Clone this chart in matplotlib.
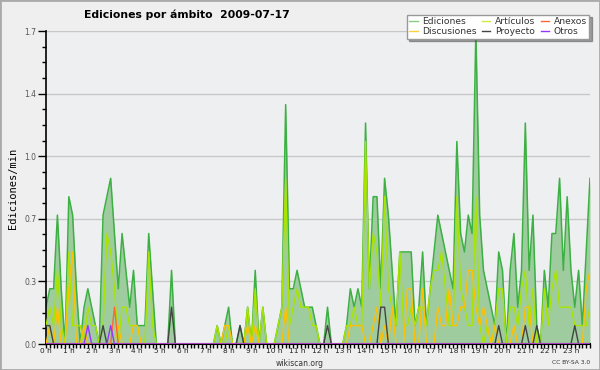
import matplotlib
matplotlib.use('Agg')
import matplotlib.pyplot as plt
import numpy as np
from matplotlib.lines import Line2D
from matplotlib.patches import Rectangle
from matplotlib.ticker import FormatStrFormatter

# edits per minute, one value every 10 minutes (144 per day)
ediciones = [0.2, 0.3, 0.3, 0.7, 0.3, 0.0, 0.8, 0.7, 0.3, 0.0, 0.2, 0.3,
             0.2, 0.1, 0.0, 0.7, 0.8, 0.9, 0.6, 0.3, 0.6, 0.4, 0.2, 0.4,
             0.1, 0.1, 0.1, 0.6, 0.3, 0.0, 0.0, 0.0, 0.0, 0.4, 0.0, 0.0,
             0.0, 0.0, 0.0, 0.0, 0.0, 0.0, 0.0, 0.0, 0.0, 0.1, 0.0, 0.1,
             0.2, 0.0, 0.0, 0.1, 0.0, 0.2, 0.0, 0.4, 0.0, 0.2, 0.0, 0.0,
             0.0, 0.1, 0.2, 1.3, 0.3, 0.3, 0.4, 0.3, 0.2, 0.2, 0.2, 0.1,
             0.0, 0.0, 0.2, 0.0, 0.0, 0.0, 0.0, 0.1, 0.3, 0.2, 0.3, 0.2,
             1.2, 0.3, 0.8, 0.8, 0.3, 0.9, 0.7, 0.4, 0.1, 0.5, 0.5, 0.5,
             0.5, 0.1, 0.2, 0.5, 0.1, 0.3, 0.5, 0.7, 0.6, 0.5, 0.4, 0.3,
             1.1, 0.6, 0.5, 0.7, 0.6, 1.7, 0.7, 0.4, 0.3, 0.2, 0.1, 0.5,
             0.4, 0.0, 0.4, 0.6, 0.2, 0.4, 1.2, 0.4, 0.7, 0.1, 0.0, 0.4,
             0.2, 0.6, 0.6, 0.9, 0.4, 0.8, 0.4, 0.2, 0.4, 0.1, 0.5, 0.9]

articulos = [0.1, 0.2, 0.1, 0.4, 0.1, 0.0, 0.5, 0.1, 0.1, 0.1, 0.0, 0.2,
             0.1, 0.1, 0.0, 0.1, 0.6, 0.5, 0.3, 0.0, 0.2, 0.2, 0.1, 0.1,
             0.1, 0.0, 0.0, 0.5, 0.1, 0.0, 0.0, 0.0, 0.0, 0.0, 0.0, 0.0,
             0.0, 0.0, 0.0, 0.0, 0.0, 0.0, 0.0, 0.0, 0.0, 0.1, 0.0, 0.0,
             0.1, 0.0, 0.0, 0.0, 0.0, 0.2, 0.0, 0.3, 0.0, 0.2, 0.0, 0.0,
             0.0, 0.1, 0.2, 0.9, 0.1, 0.2, 0.3, 0.2, 0.2, 0.2, 0.1, 0.1,
             0.0, 0.0, 0.0, 0.0, 0.0, 0.0, 0.0, 0.1, 0.1, 0.2, 0.1, 0.1,
             1.1, 0.3, 0.6, 0.5, 0.2, 0.8, 0.3, 0.2, 0.1, 0.5, 0.1, 0.1,
             0.2, 0.1, 0.2, 0.2, 0.1, 0.3, 0.4, 0.4, 0.5, 0.3, 0.1, 0.1,
             0.8, 0.3, 0.2, 0.1, 0.1, 0.8, 0.1, 0.0, 0.1, 0.0, 0.1, 0.3,
             0.3, 0.0, 0.2, 0.2, 0.1, 0.3, 0.4, 0.1, 0.3, 0.0, 0.0, 0.3,
             0.1, 0.3, 0.4, 0.2, 0.2, 0.2, 0.2, 0.1, 0.1, 0.1, 0.1, 0.2]

discusiones = [0.0, 0.1, 0.0, 0.2, 0.0, 0.0, 0.3, 0.5, 0.0, 0.0, 0.1, 0.0,
               0.0, 0.0, 0.0, 0.0, 0.0, 0.0, 0.0, 0.1, 0.0, 0.0, 0.0, 0.1,
               0.1, 0.0, 0.0, 0.0, 0.0, 0.0, 0.0, 0.0, 0.0, 0.0, 0.0, 0.0,
               0.0, 0.0, 0.0, 0.0, 0.0, 0.0, 0.0, 0.0, 0.0, 0.0, 0.0, 0.1,
               0.1, 0.0, 0.0, 0.0, 0.0, 0.1, 0.0, 0.1, 0.0, 0.0, 0.0, 0.0,
               0.0, 0.0, 0.0, 0.2, 0.0, 0.0, 0.0, 0.0, 0.0, 0.0, 0.0, 0.0,
               0.0, 0.0, 0.0, 0.0, 0.0, 0.0, 0.0, 0.0, 0.1, 0.1, 0.1, 0.1,
               0.0, 0.0, 0.1, 0.2, 0.0, 0.1, 0.0, 0.2, 0.0, 0.0, 0.0, 0.3,
               0.3, 0.0, 0.0, 0.3, 0.0, 0.0, 0.0, 0.2, 0.1, 0.1, 0.3, 0.1,
               0.1, 0.2, 0.2, 0.4, 0.4, 0.2, 0.1, 0.2, 0.1, 0.0, 0.1, 0.0,
               0.0, 0.0, 0.0, 0.1, 0.0, 0.0, 0.2, 0.2, 0.0, 0.0, 0.0, 0.0,
               0.0, 0.0, 0.0, 0.0, 0.0, 0.0, 0.0, 0.0, 0.0, 0.0, 0.3, 0.4]

proyecto = [0.1, 0.1, 0.0, 0.0, 0.0, 0.0, 0.0, 0.0, 0.0, 0.0, 0.0, 0.0,
            0.0, 0.0, 0.0, 0.1, 0.0, 0.0, 0.0, 0.0, 0.0, 0.0, 0.0, 0.0,
            0.0, 0.0, 0.0, 0.0, 0.0, 0.0, 0.0, 0.0, 0.0, 0.2, 0.0, 0.0,
            0.0, 0.0, 0.0, 0.0, 0.0, 0.0, 0.0, 0.0, 0.0, 0.0, 0.0, 0.0,
            0.0, 0.0, 0.0, 0.1, 0.0, 0.0, 0.0, 0.0, 0.0, 0.0, 0.0, 0.0,
            0.0, 0.0, 0.0, 0.0, 0.0, 0.0, 0.0, 0.0, 0.0, 0.0, 0.0, 0.0,
            0.0, 0.0, 0.1, 0.0, 0.0, 0.0, 0.0, 0.0, 0.0, 0.0, 0.0, 0.0,
            0.0, 0.0, 0.0, 0.0, 0.2, 0.2, 0.0, 0.0, 0.0, 0.0, 0.0, 0.0,
            0.0, 0.0, 0.0, 0.0, 0.0, 0.0, 0.0, 0.0, 0.0, 0.0, 0.0, 0.0,
            0.0, 0.0, 0.0, 0.0, 0.0, 0.0, 0.0, 0.0, 0.0, 0.0, 0.0, 0.1,
            0.0, 0.0, 0.0, 0.0, 0.0, 0.0, 0.1, 0.0, 0.0, 0.1, 0.0, 0.0,
            0.0, 0.0, 0.0, 0.0, 0.0, 0.0, 0.0, 0.1, 0.0, 0.0, 0.0, 0.0]

# only the first four hours have anything for these two
anexos = [0.0, 0.0, 0.0, 0.0, 0.0, 0.0, 0.0, 0.0, 0.0, 0.0, 0.0, 0.0,
          0.0, 0.0, 0.0, 0.0, 0.0, 0.0, 0.2, 0.0, 0.0, 0.0, 0.0, 0.0] + [0.0] * 120

otros = [0.0, 0.0, 0.0, 0.0, 0.0, 0.0, 0.0, 0.0, 0.0, 0.0, 0.0, 0.1,
         0.0, 0.0, 0.0, 0.0, 0.0, 0.1, 0.0, 0.0, 0.0, 0.0, 0.0, 0.0] + [0.0] * 120

hour_labels = ['%d h' % h for h in range(24)]

c_edic_line = '#3cb043'
c_edic_fill = '#9fcc9f'
c_art = '#a8e400'
c_disc = '#ffc000'
c_proy = '#444444'
c_anex = '#ff6633'
c_otros = '#9933ff'

fig = plt.figure(figsize=(6, 3.7), dpi=100, facecolor='#efefef')
ax = fig.add_axes([46 / 600, 26 / 370, 544 / 600, 313 / 370])
ax.set_facecolor('#eeeff1')

x = np.arange(len(ediciones))
ax.fill_between(x, 0, ediciones, color=c_edic_fill, lw=0, zorder=1)
ax.plot(x, ediciones, color=c_edic_line, lw=1.1, zorder=2)
ax.plot(x, articulos, color=c_art, lw=1.0, zorder=3)
ax.plot(x, discusiones, color=c_disc, lw=1.0, zorder=3)
ax.plot(x, proyecto, color=c_proy, lw=1.0, zorder=4)
ax.plot(x, anexos, color=c_anex, lw=1.0, zorder=4)
ax.plot(x, otros, color=c_otros, lw=1.0, zorder=4)

ax.set_xlim(0, len(ediciones) - 1)
ax.set_ylim(0, 1.7)

ax.set_yticks(np.linspace(0, 1.7, 6))
ax.set_yticks(np.arange(0, 1.71, 0.085), minor=True)
ax.yaxis.set_major_formatter(FormatStrFormatter('%.1f'))
ax.set_xticks(np.arange(0, 144, 6))
ax.set_xticklabels(hour_labels)
ax.set_xticks(np.arange(0, 144, 1), minor=True)

ax.tick_params(axis='y', which='major', length=6, width=1, labelsize=5.5,
               labelcolor='#555555', pad=1)
ax.tick_params(axis='y', which='minor', length=3, width=1)
ax.tick_params(axis='x', which='both', length=3, width=1, labelsize=5.3,
               labelcolor='#222222', pad=0)
ax.yaxis.grid(True, which='major', color='#c8c8c8', lw=1)
ax.set_axisbelow(True)

for s in ['top', 'right']:
    ax.spines[s].set_visible(False)
ax.spines['left'].set_linewidth(1.2)
ax.spines['bottom'].set_linewidth(1.5)

fig.text(187 / 600, 1 - 15 / 370, 'Ediciones por ámbito  2009-07-17',
         ha='center', va='center', fontsize=7.8, fontweight='bold')
fig.text(13 / 600, 1 - 188 / 370, 'Ediciones/min', rotation=90,
         ha='center', va='center', fontsize=7.5, family='DejaVu Sans Mono')
fig.text(300 / 600, 1 - 363 / 370, 'wikiscan.org', ha='center', va='center',
         fontsize=5.5, color='#333333')
fig.text(590 / 600, 1 - 362 / 370, 'CC BY-SA 3.0', ha='right', va='center',
         fontsize=4.3, color='#333333')

handles = [Line2D([], [], color='#88cc88', lw=1),
           Line2D([], [], color='#ffd040', lw=1),
           Line2D([], [], color='#ccee44', lw=1),
           Line2D([], [], color=c_proy, lw=1),
           Line2D([], [], color=c_anex, lw=1),
           Line2D([], [], color=c_otros, lw=1)]
labels = ['Ediciones', 'Discusiones', 'Artículos', 'Proyecto', 'Anexos', 'Otros']
leg = fig.legend(handles, labels, ncol=3, loc='upper right',
                 bbox_to_anchor=(594 / 600, 1 - 10 / 370), fontsize=6.6,
                 frameon=True, fancybox=False, shadow=True,
                 edgecolor='#999999', handlelength=0.9, handletextpad=0.5,
                 columnspacing=0.6, labelspacing=0.05, borderpad=0.3)
leg.get_frame().set_facecolor('white')
for t in leg.get_texts():
    t.set_color('#333333')

fig.patches.append(Rectangle((0, 0), 1, 1, transform=fig.transFigure,
                             fill=False, ec='#aaaaaa', lw=2))

fig.savefig('out.png', dpi=100, facecolor=fig.get_facecolor())
